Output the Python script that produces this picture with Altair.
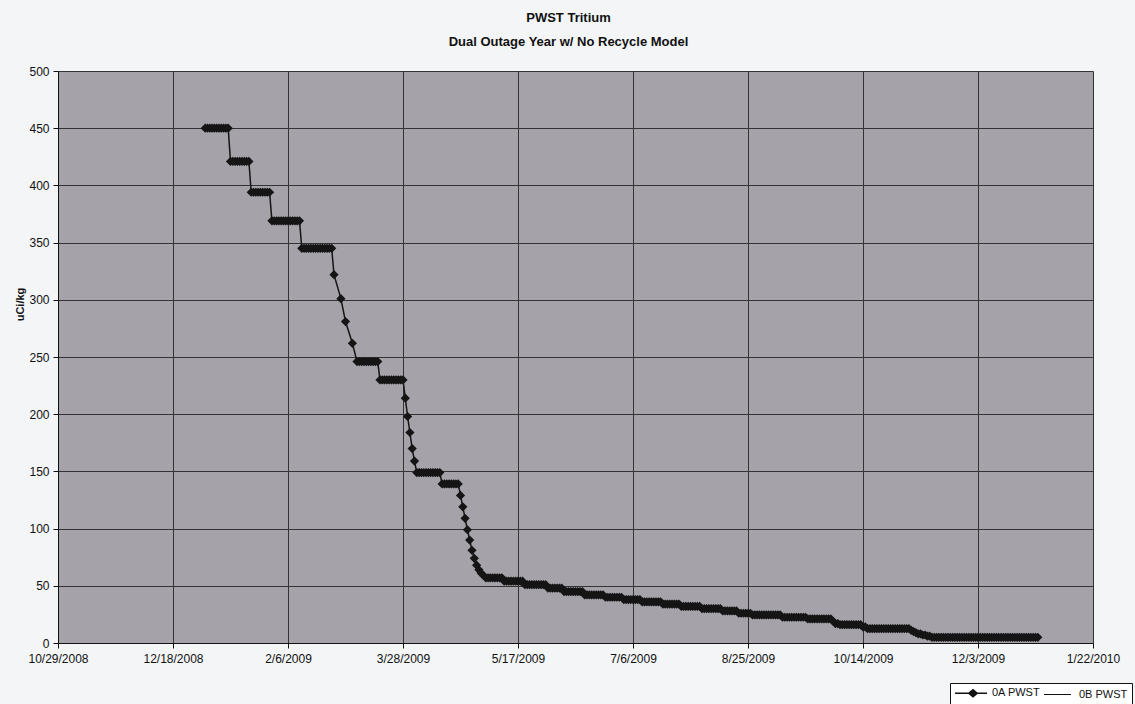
import altair as alt
import pandas as pd

# Daily PWST tritium concentration, stored as runs of equal level:
# day offsets from 1/1/2009 (first and last day of each run) and the level in uCi/kg.
run_first_day = [0, 11, 20, 29, 42, 56, 59, 61, 64, 66, 76, 87, 88, 89, 90, 91, 92, 103,
                 111, 112, 113, 114, 115, 116, 117, 118, 119, 120, 121, 122, 130, 139, 149,
                 156, 165, 174, 182, 190, 199, 207, 216, 225, 232, 238, 251, 262, 273, 274,
                 276, 286, 288, 307, 308, 309, 310, 312, 314, 316]
run_last_day = [10, 19, 28, 41, 55, 56, 59, 61, 64, 75, 86, 87, 88, 89, 90, 91, 102, 110,
                111, 112, 113, 114, 115, 116, 117, 118, 119, 120, 121, 129, 138, 148, 155,
                164, 173, 181, 189, 198, 206, 215, 224, 231, 237, 250, 261, 272, 273, 275,
                285, 287, 306, 307, 308, 309, 311, 313, 315, 362]
run_level = [450, 421, 394, 369, 345, 322, 301, 281, 262, 246, 230, 214, 198, 184, 170, 159,
             149, 139, 129, 119, 109, 99, 90, 81, 74, 68, 64, 61, 59, 57, 54, 51, 48, 45,
             42, 40, 38, 36, 34, 32, 30, 28, 26, 24.5, 22.5, 21, 19, 17, 16, 14, 12.5, 11,
             10, 9, 8, 7, 6, 5]

series_names = ["0A PWST", "0B PWST"]
x_tick_labels = ["10/29/2008", "12/18/2008", "2/6/2009", "3/28/2009", "5/17/2009",
                 "7/6/2009", "8/25/2009", "10/14/2009", "12/3/2009", "1/22/2010"]
y_ticks = [0, 50, 100, 150, 200, 250, 300, 350, 400, 450, 500]

start = pd.Timestamp("2009-01-01")
rows = []
for first, last, level in zip(run_first_day, run_last_day, run_level):
    for d in range(first, last + 1):
        rows.append({"date": (start + pd.Timedelta(days=d)).strftime("%Y-%m-%d"),
                     "value": level, "series": series_names[0]})
df = pd.DataFrame(rows)


def to_dt(label):
    m, d, y = (int(p) for p in label.split("/"))
    return alt.DateTime(year=y, month=m, date=d, utc=True)


tick_dates = [to_dt(s) for s in x_tick_labels]
font = "Liberation Sans"
ink = "#111111"
plot_fill = "#a5a2aa"

x_enc = alt.X(
    "date:T",
    scale=alt.Scale(type="utc", domain=[tick_dates[0], tick_dates[-1]]),
    axis=alt.Axis(values=tick_dates, format="%-m/%-d/%Y", title=None, grid=True,
                  gridColor="#333333", gridWidth=1, tickSize=5, tickColor=ink,
                  domainColor=ink, labelPadding=5, labelFontSize=12,
                  labelColor=ink, labelFont=font, labelOverlap=False, labelFlush=False),
)
y_enc = alt.Y(
    "value:Q",
    scale=alt.Scale(domain=[0, 500], nice=False),
    axis=alt.Axis(values=y_ticks, title="uCi/kg", grid=True, gridColor="#333333",
                  gridWidth=1, tickSize=5, tickColor=ink, domainColor=ink,
                  labelPadding=4, labelFontSize=12, labelColor=ink, labelFont=font,
                  titleFont=font, titleFontSize=11, titleFontWeight="bold",
                  titleColor=ink, titleAngle=270, titleX=-38, titleY=233,
                  titleAlign="center", titleBaseline="middle"),
)

line = alt.Chart(df).mark_line(color="#151515", strokeWidth=1.5).encode(x=x_enc, y=y_enc)
points = alt.Chart(df).mark_point(shape="diamond", filled=True, size=85, color="#151515",
                                  opacity=1).encode(x=x_enc, y=y_enc)

# Legend symbols (filled outlines): a thin bar with a diamond for 0A, a thin bar for 0B.
# The symbol box is 10px; the paths reach past it to the right to draw a long line.
sym_a = ("M-1,-0.13L1.7,-0.13L2.6,-0.9L3.5,-0.13L5.4,-0.13L5.4,0.13L3.5,0.13"
         "L2.6,0.9L1.7,0.13L-1,0.13Z")
sym_b = "M-0.6,-0.1L4.8,-0.1L4.8,0.1L-0.6,0.1Z"
legend_df = pd.DataFrame({"series": series_names})
legend_layer = alt.Chart(legend_df).mark_point(filled=True, opacity=0).encode(
    fill=alt.value(ink),
    shape=alt.Shape(
        "series:N",
        scale=alt.Scale(domain=series_names, range=[sym_a, sym_b]),
        legend=alt.Legend(
            title=None, orient="none", legendX=892, legendY=612, direction="horizontal",
            symbolSize=100, symbolFillColor=ink, symbolOpacity=1, labelFont=font,
            labelFontSize=11, labelColor=ink, strokeColor=ink, fillColor="#ffffff",
            padding=4, columnPadding=0, labelOffset=26,
        ),
    ),
)

chart = (
    alt.layer(line, points, legend_layer)
    .properties(
        width=1035,
        height=572,
        autosize=alt.AutoSizeParams(type="none"),
        padding={"left": 58, "top": 71, "right": 42, "bottom": 61},
        background="#f3f5f7",
        view=alt.ViewBackground(fill=plot_fill, stroke=None),
        title=alt.TitleParams(
            text="PWST Tritium",
            subtitle="Dual Outage Year w/ No Recycle Model",
            font=font, fontSize=13, fontWeight="bold", color=ink,
            subtitleFont=font, subtitleFontSize=13, subtitleFontWeight="bold",
            subtitleColor=ink, subtitlePadding=11, offset=16, anchor="middle", dx=-7,
        ),
    )
    .configure_view(fill=plot_fill, stroke=None)
)

chart.save("out.html", embed_options={"renderer": "svg", "actions": False})
